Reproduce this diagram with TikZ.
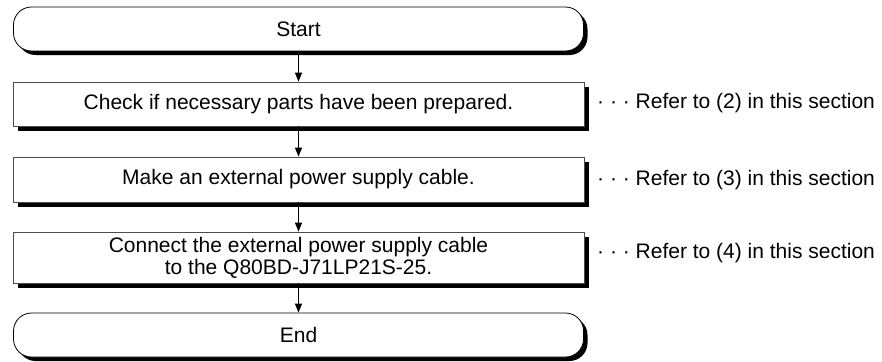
\documentclass[tikz,border=0pt]{standalone}
\usepackage{fontspec}
\setmainfont{Liberation Sans}
\usetikzlibrary{arrows.meta,shadows}

\begin{document}
\begin{tikzpicture}[x=1pt, y=-1pt, >={Triangle[length=9pt,width=7pt]},
  every node/.style={font=\fontsize{21}{22}\selectfont},
  flowbox/.style={draw=black!70, line width=0.8pt, fill=white, minimum width=571pt,
    inner sep=0pt, align=center,
    general shadow={shadow xshift=5pt, shadow yshift=-5pt, fill=black}},
  termbox/.style={draw=black, line width=0.8pt, fill=white, minimum width=570pt,
    minimum height=44pt, inner sep=0pt, rounded corners=18pt,
    general shadow={shadow xshift=4pt, shadow yshift=-4pt, fill=black}},
  refnote/.style={anchor=west, inner sep=0pt}]
  \def\cx{298.5} % centre line of the flow
  \useasboundingbox (0,0) rectangle (882,361);
  % ---------- the flow ----------
  \node[termbox] (start) at (\cx,29) {Start};
  \node[flowbox, minimum height=44pt] (check) at (\cx,104)
    {Check if necessary parts have been prepared.};
  \node[flowbox, minimum height=45pt] (cable) at (\cx,179.5)
    {Make an external power supply cable.};
  \node[flowbox, minimum height=51pt] (connect) at (\cx,257.5)
    {Connect the external power supply cable\\to the Q80BD-J71LP21S-25.};
  \node[termbox] (end) at (\cx,335) {End};
  % arrows
  \draw[->, line width=1pt] (start.south) -- (check.north);
  \draw[->, line width=1pt] (check.south) -- (cable.north);
  \draw[->, line width=1pt] (cable.south) -- (connect.north);
  \draw[->, line width=1pt] (connect.south) -- (end.north);
  % ---------- references to the section ----------
  \node[refnote] (ref2) at (597,103) {· · · Refer to (2) in this section};
  \node[refnote] (ref3) at (597,180) {· · · Refer to (3) in this section};
  \node[refnote] (ref4) at (597,253) {· · · Refer to (4) in this section};
\end{tikzpicture}
\end{document}
